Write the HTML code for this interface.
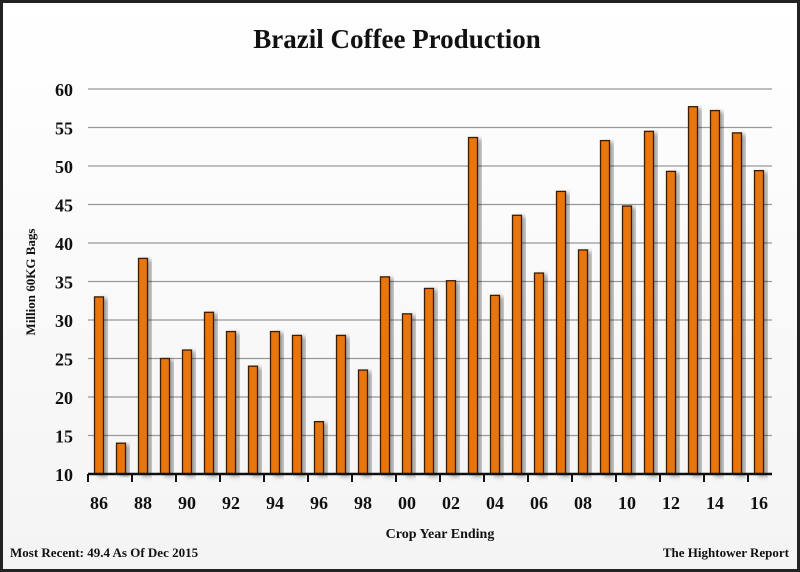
<!DOCTYPE html>
<html><head><meta charset="utf-8"><style>
body{margin:0;width:800px;height:572px;overflow:hidden;background:#fff}
svg{display:block}
text{font-family:"Liberation Serif",serif;font-weight:bold;fill:#111}
</style></head><body>
<svg width="800" height="572">
<defs><linearGradient id="bg" x1="0" y1="0" x2="0" y2="1"><stop offset="0" stop-color="#ffffff"/><stop offset="1" stop-color="#f4f4f4"/></linearGradient>
<filter id="sh" x="-50%" y="-10%" width="200%" height="120%"><feDropShadow dx="4" dy="2" stdDeviation="2" flood-color="#000" flood-opacity="0.35"/></filter></defs>
<rect x="1.5" y="1.5" width="797" height="569" fill="url(#bg)" stroke="#222" stroke-width="3"/>
<text x="397" y="48" text-anchor="middle" font-size="27">Brazil Coffee Production</text>
<g id="grid"></g>
<g id="bars"></g>
<g id="axes"></g>
<text transform="translate(35,282) rotate(-90)" text-anchor="middle" font-size="13">Million 60KG Bags</text>
<text x="440" y="538" text-anchor="middle" font-size="14">Crop Year Ending</text>
<text x="10" y="557" font-size="13">Most Recent: 49.4 As Of Dec 2015</text>
<text x="789" y="557" text-anchor="end" font-size="13">The Hightower Report</text>
</svg>
<script>
const categories=["86","87","88","89","90","91","92","93","94","95","96","97","98","99","00","01","02","03","04","05","06","07","08","09","10","11","12","13","14","15","16"];
const values=[33.0,14.0,38.0,25.0,26.1,31.0,28.5,24.0,28.5,28.0,16.8,28.0,23.5,35.6,30.8,34.1,35.1,53.7,33.2,43.6,36.1,46.7,39.1,53.3,44.8,54.5,49.3,57.7,57.2,54.3,49.4];
const yTicks=[10,15,20,25,30,35,40,45,50,55,60];
const NS="http://www.w3.org/2000/svg";
const X0=88,BAND=22,Y0=474,YT=89,YMIN=10,YMAX=60;
const y=v=>Y0-(v-YMIN)/(YMAX-YMIN)*(Y0-YT);
const x=i=>X0+BAND*(i+0.5);
function mk(t,a,p){const e=document.createElementNS(NS,t);for(const k in a)e.setAttribute(k,a[k]);p.appendChild(e);return e;}
const g=document.getElementById('grid'),b=document.getElementById('bars'),ax=document.getElementById('axes');
yTicks.forEach(t=>{
 if(t>YMIN){const l=mk('line',{x1:X0,x2:772,y1:y(t),y2:y(t),stroke:'#999','stroke-width':1.3},g);
 
 }
 const tx=mk('text',{x:73,y:y(t)+7,'text-anchor':'end','font-size':18,'font-family':'Liberation Sans, sans-serif'},ax);
 tx.textContent=t;
 
 
});
values.forEach((v,i)=>{
 const r=mk('rect',{x:x(i)-4.5,y:y(v),width:9,height:Y0-y(v),fill:'#e8740c',stroke:'#3a1a00','stroke-width':1.3,filter:'url(#sh)'},b);
 
 
});
const al=mk('line',{x1:X0,x2:772,y1:Y0,y2:Y0,stroke:'#111','stroke-width':2.5},ax);


for(let i=0;i<=categories.length;i+=2){
 const tk=mk('line',{x1:X0+BAND*i,x2:X0+BAND*i,y1:Y0,y2:Y0+8,stroke:'#111','stroke-width':2},ax);
 
 
 if(i<categories.length){
 const tx=mk('text',{x:x(i),y:Y0+35,'text-anchor':'middle','font-size':18,'font-family':'Liberation Sans, sans-serif'},ax);
 tx.textContent=categories[i];
 
 }
}
</script>
</body></html>
